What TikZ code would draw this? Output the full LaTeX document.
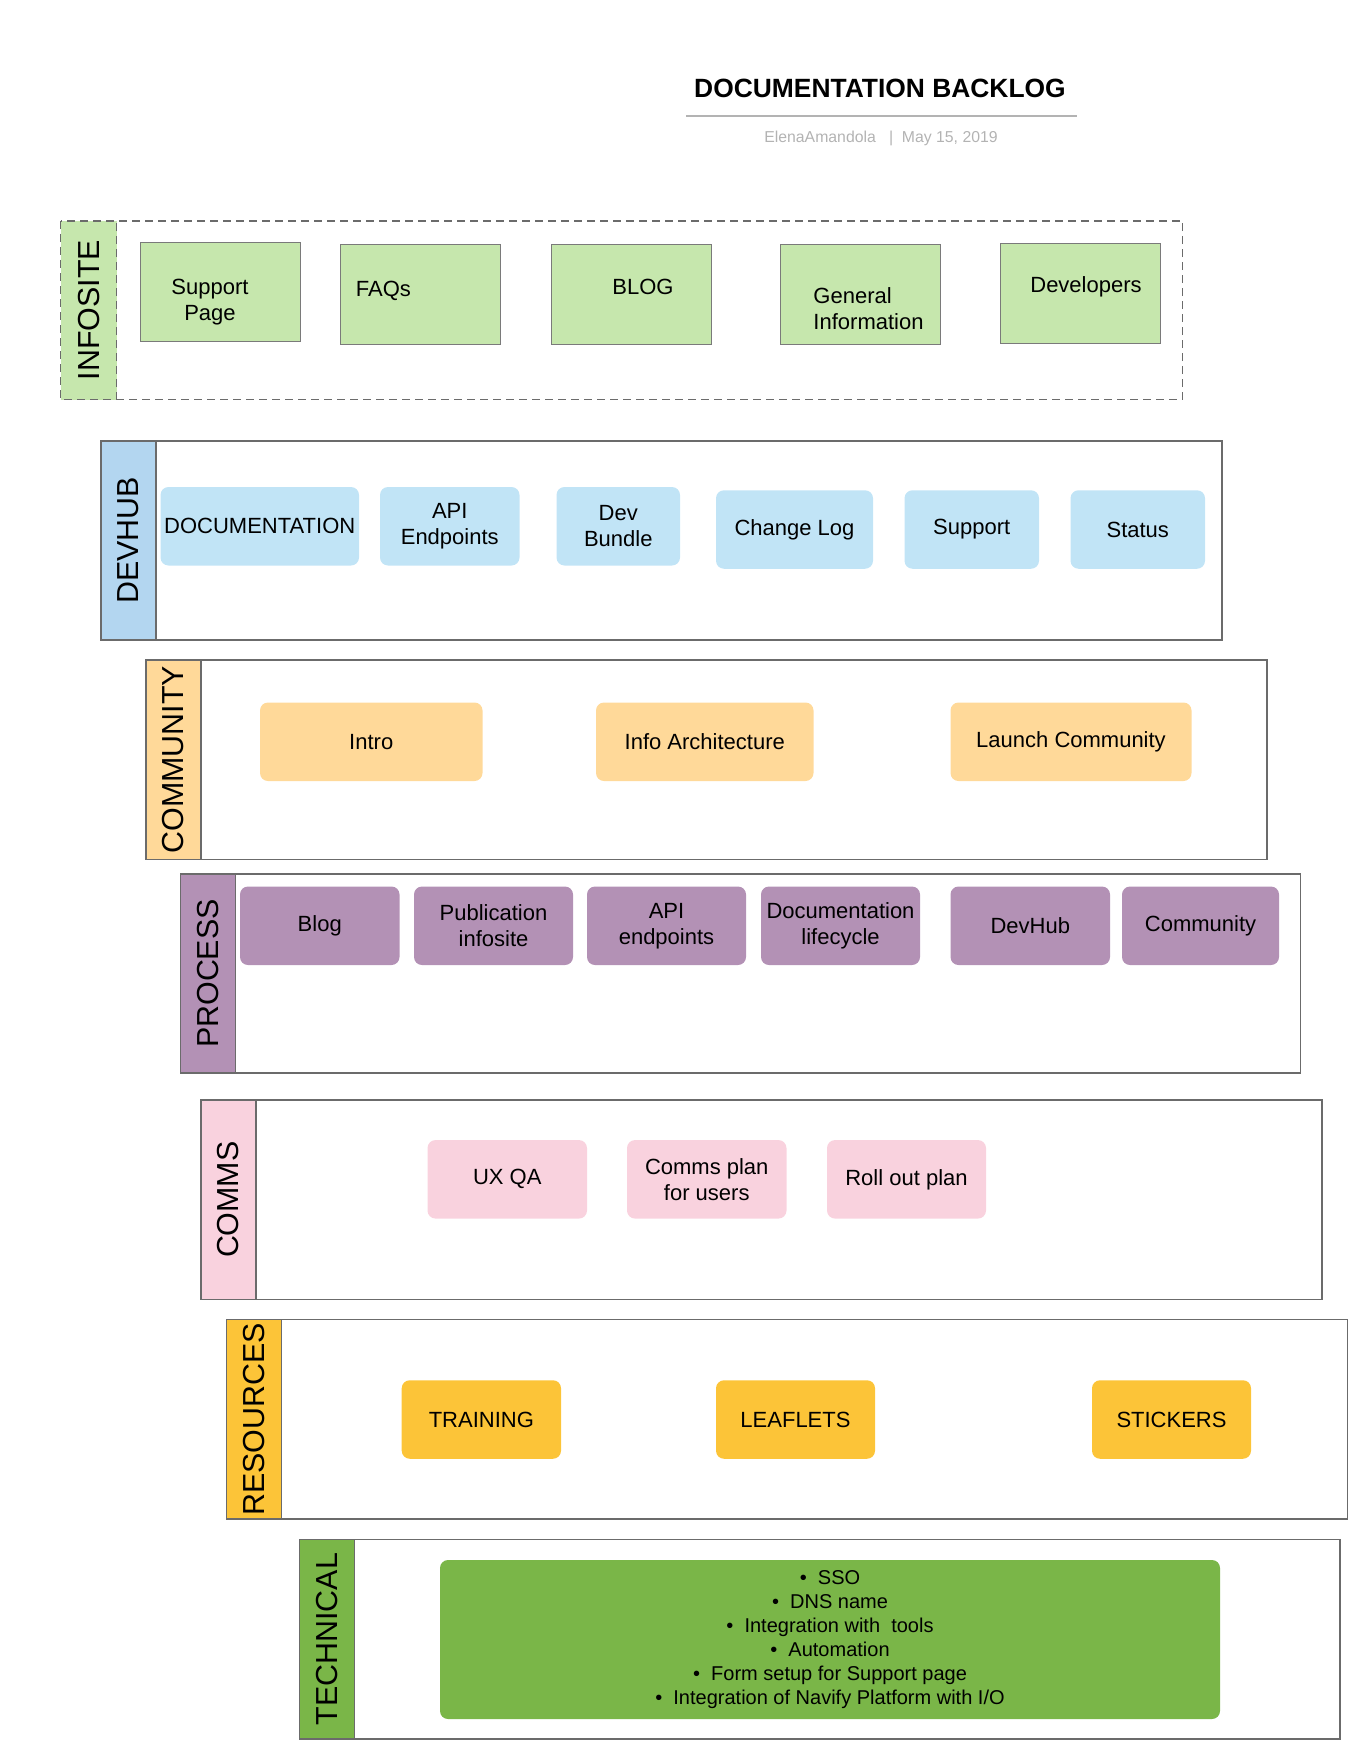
\documentclass[tikz,border=0pt]{standalone}
\usepackage{fontspec}
\setmainfont{Liberation Sans}
\definecolor{lanegray}{HTML}{6B6B6B}
\definecolor{infogreen}{HTML}{C6E7AD}
\definecolor{hubblue}{HTML}{C1E4F6}
\definecolor{hubstrip}{HTML}{B3D6F0}
\definecolor{commorange}{HTML}{FFD999}
\definecolor{procpurple}{HTML}{B391B5}
\definecolor{commspink}{HTML}{F9D2DE}
\definecolor{resyellow}{HTML}{FCC438}
\definecolor{techgreen}{HTML}{7AB648}
\definecolor{subgray}{HTML}{B3B3B3}
\tikzset{
  lane/.style={draw=lanegray, line width=0.75pt},
  lanelabel/.style={rotate=90, inner sep=0pt, font=\fontsize{15.2}{18}\selectfont},
  sitebox/.style={draw=lanegray!90, line width=0.5pt, fill=infogreen, inner sep=0pt, minimum width=80pt, minimum height=49.5pt},
  sitetext/.style={inner sep=0pt, align=center, font=\fontsize{11}{13}\selectfont},
  card/.style={rounded corners=4pt, inner sep=0pt, align=center, font=\fontsize{11}{13}\selectfont, minimum height=39.25pt}
}
\begin{document}
\begin{tikzpicture}[x=0.5pt,y=-0.5pt]
\useasboundingbox (0,0) rectangle (1360,1760);

% heading
\node[font=\bfseries\fontsize{13.2}{16}\selectfont] (title) at (880,88) {DOCUMENTATION BACKLOG};
\coordinate (rulea) at (686,116);
\coordinate (ruleb) at (1077,116);
\draw[color=subgray, line width=1pt] (rulea) -- (ruleb);
\node[text=subgray, font=\fontsize{7.9}{10}\selectfont] (byline) at (881,138) {ElenaAmandola\ \ \ |\ \ May 15, 2019};

% INFOSITE
\draw[lane, dashed, dash pattern=on 4pt off 2.5pt] (60.6,221) rectangle (1182.7,399.5);
\draw[lane, dashed, dash pattern=on 4pt off 2.5pt, fill=infogreen] (60.6,221) rectangle (116.7,399.5);
\node[lanelabel] (infositelbl) at (88.6,310.2) {INFOSITE};
\node[sitebox] (suppage) at (220.5,292) {};
\node[sitetext] (suppagetxt) at (210,302) {Support\\Page};
\node[sitebox] (faqs) at (420,294.5) {};
\node[sitetext] (faqstxt) at (383.4,290.6) {FAQs};
\node[sitebox] (blog) at (631,294.5) {};
\node[sitetext] (blogtxt) at (643,287.3) {BLOG};
\node[sitebox] (geninfo) at (860,294.5) {};
\node[sitetext, align=left] (geninfotxt) at (868.5,308.6) {General\\Information};
\node[sitebox] (devs) at (1080,293.5) {};
\node[sitetext] (devstxt) at (1086,287.3) {Developers};

% DEVHUB
\draw[lane] (101,441) rectangle (1222,640);
\draw[lane, fill=hubstrip] (101,441) rectangle (156,640);
\node[lanelabel] (devhublbl) at (128.5,540.5) {DEVHUB};
\node[card, fill=hubblue, minimum width=99.25pt] (docu) at (259.75,526.25) {DOCUMENTATION};
\node[card, fill=hubblue, minimum width=69.75pt] (apiend) at (449.75,526.25) {API\\Endpoints};
\node[card, fill=hubblue, minimum width=61.75pt] (bundle) at (618.25,526.25) {Dev\\Bundle};
\node[card, fill=hubblue, minimum width=78.5pt] (changelog) at (794.5,529.5) {Change Log};
\node[card, fill=hubblue, minimum width=67.25pt] (support) at (971.75,529.5) {Support};
\node[card, fill=hubblue, minimum width=67.25pt] (status) at (1137.75,529.5) {Status};

% COMMUNITY
\draw[lane] (146,660) rectangle (1267,859.5);
\draw[lane, fill=commorange] (146,660) rectangle (201,859.5);
\node[lanelabel] (communitylbl) at (173.5,759.7) {COMMUNITY};
\node[card, fill=commorange, minimum width=111.25pt] (intro) at (371.25,741.75) {Intro};
\node[card, fill=commorange, minimum width=108.75pt] (infoarch) at (704.75,741.75) {Info Architecture};
\node[card, fill=commorange, minimum width=120.5pt] (launch) at (1071,741.75) {Launch Community};

% PROCESS
\draw[lane] (180.5,874) rectangle (1300.5,1073);
\draw[lane, fill=procpurple] (180.5,874) rectangle (235.6,1073);
\node[lanelabel] (processlbl) at (208,973.5) {PROCESS};
\node[card, fill=procpurple, minimum width=79.75pt] (pblog) at (319.75,925.75) {Blog};
\node[card, fill=procpurple, minimum width=79.5pt] (pubinfo) at (493.5,925.75) {Publication\\infosite};
\node[card, fill=procpurple, minimum width=79.5pt] (apiendp) at (666.5,925.75) {API\\endpoints};
\node[card, fill=procpurple, minimum width=79.5pt] (doclife) at (840.5,925.75) {Documentation\\lifecycle};
\node[card, fill=procpurple, minimum width=79.75pt] (pdevhub) at (1030.25,925.75) {DevHub};
\node[card, fill=procpurple, minimum width=78.5pt] (pcommunity) at (1200.5,925.75) {Community};

% COMMS
\draw[lane] (201,1100) rectangle (1322,1299.5);
\draw[lane, fill=commspink] (201,1100) rectangle (256,1299.5);
\node[lanelabel] (commslbl) at (228.5,1199.7) {COMMS};
\node[card, fill=commspink, minimum width=79.75pt] (uxqa) at (507.25,1179.3) {UX QA};
\node[card, fill=commspink, minimum width=79.75pt] (commsplan) at (706.75,1179.3) {Comms plan\\for users};
\node[card, fill=commspink, minimum width=79.5pt] (rollout) at (906.5,1179.3) {Roll out plan};

% RESOURCES
\draw[lane] (226.7,1319.6) rectangle (1347.6,1519);
\draw[lane, fill=resyellow] (226.7,1319.6) rectangle (281.6,1519);
\node[lanelabel] (resourceslbl) at (254.1,1419.3) {RESOURCES};
\node[card, fill=resyellow, minimum width=79.65pt] (training) at (481.35,1419.5) {TRAINING};
\node[card, fill=resyellow, minimum width=79.5pt] (leaflets) at (795.5,1419.5) {LEAFLETS};
\node[card, fill=resyellow, minimum width=79.5pt] (stickers) at (1171.5,1419.5) {STICKERS};

% TECHNICAL
\draw[lane] (299.6,1539.5) rectangle (1339.8,1739);
\draw[lane, fill=techgreen] (299.6,1539.5) rectangle (354.6,1739);
\node[lanelabel] (technicallbl) at (327.1,1639.2) {TECHNICAL};
\node[card, fill=techgreen, minimum width=390pt, minimum height=79.5pt, font=\fontsize{10}{12}\selectfont] (techlist) at (830,1639.5)
  {\textbullet\ \ SSO\\\textbullet\ \ DNS name\\\textbullet\ \ Integration with\ \ tools\\\textbullet\ \ Automation\\\textbullet\ \ Form setup for Support page\\\textbullet\ \ Integration of Navify Platform with I/O};
\end{tikzpicture}
\end{document}
